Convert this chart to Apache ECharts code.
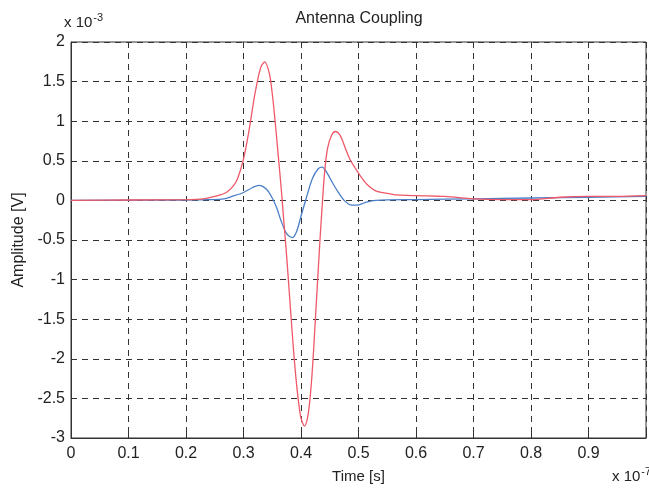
<!DOCTYPE html>
<html>
<head>
<meta charset="utf-8">
<script src="https://cdn.jsdelivr.net/npm/echarts@6/dist/echarts.min.js"></script>
<style>html,body{margin:0;padding:0;background:#fff;}#c{width:649px;height:489px;}</style>
</head>
<body>
<div id="c"></div>
<script>
// Time in units of 1e-7 s, amplitude in units of 1e-3 V
const redX = [0,0.1,0.2,0.23,0.25,0.27,0.283,0.29,0.3,0.31,0.32,0.33,0.337,0.345,0.35,0.355,0.36,0.365,0.37,0.375,0.38,0.385,0.39,0.395,0.4,0.406,0.412,0.417,0.421,0.425,0.429,0.433,0.437,0.441,0.446,0.453,0.46,0.468,0.476,0.485,0.495,0.505,0.515,0.53,0.55,0.567,0.6,0.65,0.7,0.75,0.8,0.85,0.9,0.95,1.0];
const redY = [0,0.005,0.01,0.02,0.05,0.1,0.19,0.28,0.52,0.9,1.35,1.68,1.75,1.6,1.35,1.0,0.6,0.2,-0.25,-0.7,-1.2,-1.7,-2.15,-2.5,-2.75,-2.85,-2.72,-2.4,-2.0,-1.5,-1.0,-0.5,-0.05,0.35,0.65,0.82,0.87,0.82,0.68,0.52,0.4,0.29,0.2,0.12,0.09,0.07,0.06,0.05,0.02,0.01,0.01,0.04,0.05,0.05,0.06];
const blueX = [0,0.2,0.24,0.266,0.28,0.3,0.315,0.327,0.34,0.35,0.358,0.365,0.375,0.385,0.392,0.4,0.41,0.42,0.43,0.437,0.445,0.455,0.465,0.475,0.488,0.498,0.51,0.53,0.6,0.7,0.8,0.9,1.0];
const blueY = [0,0.005,0.01,0.02,0.05,0.1,0.16,0.19,0.14,0.03,-0.1,-0.25,-0.42,-0.47,-0.4,-0.2,0.05,0.28,0.4,0.42,0.35,0.22,0.1,0.0,-0.06,-0.06,-0.03,0.0,0.01,0.02,0.03,0.04,0.05];
const xTicks = ['0','0.1','0.2','0.3','0.4','0.5','0.6','0.7','0.8','0.9',''];
const yTicks = ['-3','-2.5','-2','-1.5','-1','-0.5','0','0.5','1','1.5','2'];

const chart = echarts.init(document.getElementById('c'));
const font = 'Liberation Sans, Arial, sans-serif';
const redData = redX.map((x,i)=>[x,redY[i]]);
const blueData = blueX.map((x,i)=>[x,blueY[i]]);
chart.setOption({
  animation:false,
  backgroundColor:'#ffffff',
  title:{text:'Antenna Coupling',left:354,textAlign:'center',top:6,textStyle:{fontFamily:font,fontSize:16,fontWeight:'normal',color:'#222'}},
  grid:{left:71,right:2,top:42,bottom:46,show:true,borderColor:'#333',borderWidth:1},
  xAxis:{type:'value',min:0,max:1,interval:0.1,
    name:'Time [s]',nameLocation:'middle',nameGap:31,
    nameTextStyle:{fontFamily:font,fontSize:15,color:'#222'},
    axisLine:{onZero:false,lineStyle:{color:'#333',width:1}},
    axisTick:{inside:true,length:5,lineStyle:{color:'#333'}},
    axisLabel:{fontFamily:font,fontSize:16,color:'#222',margin:8,formatter:(v)=>xTicks[Math.round(v*10)]},
    splitLine:{show:true,lineStyle:{type:[6,5],color:'#333',width:1}}},
  yAxis:{type:'value',min:-3,max:2,interval:0.5,
    name:'Amplitude [V]',nameLocation:'middle',nameGap:42,
    nameTextStyle:{fontFamily:font,fontSize:16,color:'#222'},
    axisLine:{show:true,onZero:false,lineStyle:{color:'#333',width:1}},
    axisTick:{show:true,inside:true,length:5,lineStyle:{color:'#333'}},
    axisLabel:{fontFamily:font,fontSize:16,color:'#222',margin:6,formatter:(v)=>yTicks[Math.round((v+3)*2)]},
    splitLine:{show:true,lineStyle:{type:[6,5],color:'#333',width:1}}},
  graphic:[
    {type:'text',left:64,top:12,style:{text:'{a|x 10}{b|-3}',rich:{a:{fontFamily:font,fontSize:15,fill:'#222'},b:{fontFamily:font,fontSize:11,fill:'#222',verticalAlign:'top',padding:[0,0,10,1]}}}},
    {type:'text',left:612,top:466,style:{text:'{a|x 10}{b|-7}',rich:{a:{fontFamily:font,fontSize:15,fill:'#222'},b:{fontFamily:font,fontSize:11,fill:'#222',verticalAlign:'top',padding:[0,0,10,1]}}}}
  ],
  series:[
    {type:'line',data:blueData,smooth:0.3,symbol:'none',lineStyle:{color:'#4a7fc8',width:1.3}},
    {type:'line',data:redData,smooth:0.3,symbol:'none',lineStyle:{color:'#ee5868',width:1.3}}
  ]
});
</script>
</body>
</html>
